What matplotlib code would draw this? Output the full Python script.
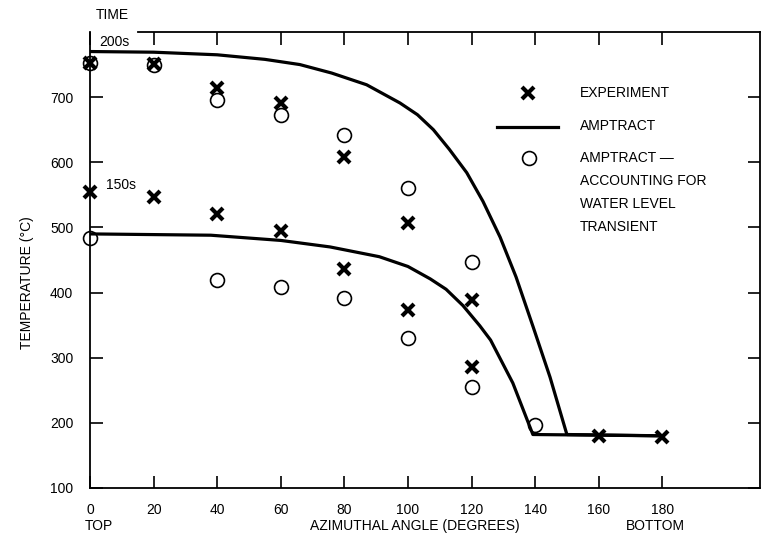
import matplotlib.pyplot as plt
import numpy as np

plt.rcParams['font.family'] = ['Liberation Sans', 'DejaVu Sans']

# experiment points (x markers)
exp_ang_200 = [0, 20, 40, 60, 80, 100, 120]
exp_t_200 = [753, 751, 714, 691, 608, 507, 389]
exp_ang_150 = [0, 20, 40, 60, 80, 100, 120, 160, 180]
exp_t_150 = [555, 547, 521, 495, 436, 373, 286, 180, 178]

# AMPTRACT with water level transient (circles)
wl_ang_200 = [0, 20, 40, 60, 80, 100, 120]
wl_t_200 = [753, 750, 696, 673, 642, 561, 447]
wl_ang_150 = [0, 40, 60, 80, 100, 120, 140]
wl_t_150 = [484, 420, 409, 392, 330, 255, 197]

# AMPTRACT curves
amp_ang_200 = [0, 20, 40, 55, 66, 76, 87, 97.5, 103, 108, 113, 118.5, 123.6, 129, 134, 139.4, 144.7, 150, 180]
amp_t_200 = [770, 769, 765, 758, 750, 737, 719, 691, 673, 650, 620, 584, 540, 485, 424, 347, 270, 182, 180]
amp_ang_150 = [0, 38, 60, 75.5, 91, 100, 107, 112, 117.3, 122.6, 126, 133, 139.3, 180]
amp_t_150 = [490, 488, 480, 470, 455, 440, 421, 405, 380, 349, 327, 261, 182, 180]

xticks = [0, 20, 40, 60, 80, 100, 120, 140, 160, 180]
yticks = [100, 200, 300, 400, 500, 600, 700]

fig = plt.figure(figsize=(7.66, 5.47), dpi=100)
ax = fig.add_axes([0.1175, 0.108, 0.8745, 0.8335])

ax.plot(amp_ang_200, amp_t_200, color='black', lw=2.3)
ax.plot(amp_ang_150, amp_t_150, color='black', lw=2.3)
ax.plot(exp_ang_200, exp_t_200, 'x', color='black', ms=8, mew=3, clip_on=False)
ax.plot(exp_ang_150, exp_t_150, 'x', color='black', ms=8, mew=3, clip_on=False)
ax.plot(wl_ang_200, wl_t_200, 'o', mfc='none', mec='black', ms=10, mew=1.2, clip_on=False)
ax.plot(wl_ang_150, wl_t_150, 'o', mfc='none', mec='black', ms=10, mew=1.2, clip_on=False)

ax.set_xlim(0, 210.7)
ax.set_ylim(100, 800)
ax.set_xticks(xticks)
ax.set_yticks(yticks)
ax.tick_params(direction='in', length=9, width=1.2, labelsize=10,
               top=True, right=True, labeltop=False, labelright=False)
ax.tick_params(axis='x', pad=11)
ax.tick_params(axis='y', pad=12)
for s in ax.spines.values():
    s.set_linewidth(1.3)
ax.spines['top'].set_bounds(15, 210.7)

# legend drawn by hand
tr = ax.transAxes
ax.plot([0.654], [0.866], 'x', color='black', ms=8, mew=3, transform=tr)
ax.plot([0.607, 0.699], [0.792, 0.792], color='black', lw=2.3, transform=tr)
ax.plot([0.655], [0.724], 'o', mfc='none', mec='black', ms=10, mew=1.2, transform=tr)
ax.text(0.731, 0.866, 'EXPERIMENT', transform=tr, fontsize=10, va='center')
ax.text(0.731, 0.794, 'AMPTRACT', transform=tr, fontsize=10, va='center')
for yy, s in zip([0.724, 0.673, 0.623, 0.572],
                 ['AMPTRACT —', 'ACCOUNTING FOR', 'WATER LEVEL', 'TRANSIENT']):
    ax.text(0.731, yy, s, transform=tr, fontsize=10, va='center')

# time labels
fig.text(112 / 766, 1 - 15 / 547, 'TIME', fontsize=10, ha='center', va='center')
fig.text(114 / 766, 1 - 42 / 547, '200s', fontsize=10, ha='center', va='center')
fig.text(121 / 766, 1 - 185 / 547, '150s', fontsize=10, ha='center', va='center')

# axis labels
fig.text(99 / 766, 1 - 526 / 547, 'TOP', fontsize=10, ha='center', va='center')
fig.text(415 / 766, 1 - 526 / 547, 'AZIMUTHAL ANGLE (DEGREES)', fontsize=10, ha='center', va='center')
fig.text(655 / 766, 1 - 526 / 547, 'BOTTOM', fontsize=10, ha='center', va='center')
fig.text(27 / 766, 1 - 283 / 547, 'TEMPERATURE (°C)', fontsize=10, rotation=90, ha='center', va='center')

fig.savefig('out.png', dpi=100)
